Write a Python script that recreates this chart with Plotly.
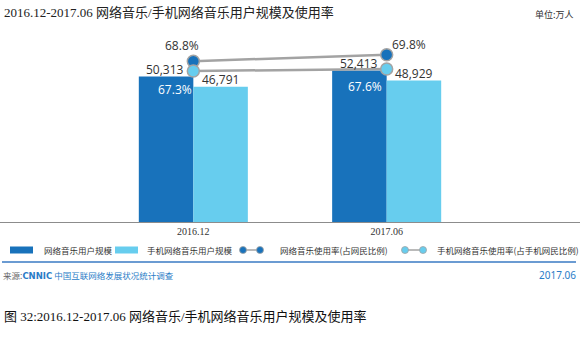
import plotly.graph_objects as go

# ---- data ----
categories = ["2016.12", "2017.06"]
users_total = [50313, 52413]          # 网络音乐用户规模 (万人)
users_mobile = [46791, 48929]         # 手机网络音乐用户规模 (万人)
rate_total = [68.8, 69.8]             # 网络音乐使用率(占网民比例)
rate_mobile = [67.3, 67.6]            # 手机网络音乐使用率(占手机网民比例)

title_text = "2016.12-2017.06 网络音乐/手机网络音乐用户规模及使用率"
caption_text = "图 32:2016.12-2017.06 网络音乐/手机网络音乐用户规模及使用率"
unit_text = "单位:万人"
legend_names = ["网络音乐用户规模", "手机网络音乐用户规模",
                "网络音乐使用率(占网民比例)", "手机网络音乐使用率(占手机网民比例)"]

DARK = "#1872bb"
LIGHT = "#67cdee"
GREY = "#a3a3a3"
W, H = 580, 347
TOP, BOTTOM_Y = 30, 222  # plot area top / baseline in pixels

def py(p):  # pixel y -> paper y
    return (BOTTOM_Y - p) / (BOTTOM_Y - TOP)

def px(p):
    return p / W

xs = [0, 1]
fig = go.Figure()
fig.add_trace(go.Bar(x=xs, y=users_total, marker=dict(color=DARK, line=dict(width=0)),
                     name=legend_names[0]))
fig.add_trace(go.Bar(x=xs, y=users_mobile, marker=dict(color=LIGHT, line=dict(width=0)),
                     name=legend_names[1]))
fig.add_trace(go.Scatter(x=xs, y=rate_total, yaxis="y2", mode="lines+markers",
                         line=dict(color=GREY, width=2.5),
                         marker=dict(size=12, color=DARK, line=dict(color=GREY, width=1.5)),
                         name=legend_names[2]))
fig.add_trace(go.Scatter(x=xs, y=rate_mobile, yaxis="y2", mode="lines+markers",
                         line=dict(color=GREY, width=2.5),
                         marker=dict(size=12, color=LIGHT, line=dict(color=GREY, width=1.5)),
                         name=legend_names[3]))

annotations = []
num_font = dict(family="Open Sans, DejaVu Sans, sans-serif", size=12, color="#333333")
# bar value labels
for i, (a, b) in enumerate(zip(users_total, users_mobile)):
    annotations.append(dict(x=xs[i], y=a, xref="x", yref="y", text=f"{a:,}", showarrow=False,
                            xshift=-28, yshift=7, font=num_font))
    annotations.append(dict(x=xs[i], y=b, xref="x", yref="y", text=f"{b:,}", showarrow=False,
                            xshift=27, yshift=7, font=num_font))
# rate labels
rt_shift = [(-11, 16), (22, 10)]
rm_shift = [(-18, -18), (-22, -17)]
for i in range(2):
    annotations.append(dict(x=xs[i], y=rate_total[i], xref="x", yref="y2",
                            text=f"{rate_total[i]}%", showarrow=False,
                            xshift=rt_shift[i][0], yshift=rt_shift[i][1], font=num_font))
    annotations.append(dict(x=xs[i], y=rate_mobile[i], xref="x", yref="y2",
                            text=f"{rate_mobile[i]}%", showarrow=False,
                            xshift=rm_shift[i][0], yshift=rm_shift[i][1],
                            font=dict(num_font, color="white")))

# watermark
wm_pos = [(40, 40), (190, 30), (340, 35), (500, 30), (110, 110), (270, 105), (430, 100),
          (30, 180), (190, 175), (350, 170), (520, 165), (110, 245), (270, 240), (440, 235),
          (40, 300), (200, 300), (360, 300), (520, 300)]
for (x0, y0) in wm_pos:
    annotations.append(dict(x=px(x0), y=py(y0), xref="paper", yref="paper", text="<b>CNNIC</b>",
                            showarrow=False, textangle=-22,
                            font=dict(family="DejaVu Sans", size=28, color="rgba(0,0,0,0.022)")))

# title / unit / caption / source
serif = "Liberation Serif, Noto Sans CJK SC, serif"
annotations += [
    dict(x=px(2), y=py(13), xref="paper", yref="paper", text=title_text, showarrow=False,
         xanchor="left", yanchor="middle", font=dict(family=serif, size=13, color="#222")),
    dict(x=px(576), y=py(14), xref="paper", yref="paper", text=unit_text, showarrow=False,
         xanchor="right", yanchor="middle", font=dict(family="Noto Sans CJK SC", size=9, color="#333")),
    dict(x=px(2), y=py(316), xref="paper", yref="paper", text=caption_text, showarrow=False,
         xanchor="left", yanchor="middle", font=dict(family=serif, size=13, color="#111")),
    dict(x=px(1), y=py(275), xref="paper", yref="paper",
         text="<span style='color:#666'>来源:</span><b style='font-family:DejaVu Sans'>CNNIC</b> 中国互联网络发展状况统计调查",
         showarrow=False, xanchor="left", yanchor="middle",
         font=dict(family="Noto Sans CJK SC", size=8.5, color="#2a7cc7")),
    dict(x=px(578), y=py(275), xref="paper", yref="paper", text="2017.06", showarrow=False,
         xanchor="right", yanchor="middle", font=dict(family="Noto Sans", size=10, color="#2a7cc7")),
]

# custom legend
leg_font = dict(family="Noto Sans CJK SC", size=8.5, color="#333")
shapes = []
LY = 250
shapes.append(dict(type="rect", xref="paper", yref="paper", x0=px(10), x1=px(33),
                   y0=py(LY - 3.5), y1=py(LY + 3.5), fillcolor=DARK, line=dict(width=0)))
shapes.append(dict(type="rect", xref="paper", yref="paper", x0=px(115), x1=px(138),
                   y0=py(LY - 3.5), y1=py(LY + 3.5), fillcolor=LIGHT, line=dict(width=0)))
for (xa, xb, col) in [(243, 260, DARK), (405, 423, LIGHT)]:
    shapes.append(dict(type="line", xref="paper", yref="paper", x0=px(xa), x1=px(xb),
                       y0=py(LY), y1=py(LY), line=dict(color=GREY, width=1.5)))
    for xc in (xa, xb):
        shapes.append(dict(type="circle", xref="paper", yref="paper", x0=px(xc - 3.5), x1=px(xc + 3.5),
                           y0=py(LY + 3.5), y1=py(LY - 3.5), fillcolor=col,
                           line=dict(color=GREY, width=0.8)))
for xt, name in zip([42, 145, 278, 435], legend_names):
    annotations.append(dict(x=px(xt), y=py(LY), xref="paper", yref="paper", text=name,
                            showarrow=False, xanchor="left", yanchor="middle", font=leg_font))
# blue separator line
shapes.append(dict(type="line", xref="paper", yref="paper", x0=px(2), x1=px(576),
                   y0=py(262), y1=py(262), line=dict(color="#6b9bd2", width=2)))

fig.update_layout(
    width=W, height=H, autosize=False,
    margin=dict(l=0, r=0, t=TOP, b=H - BOTTOM_Y, pad=0),
    paper_bgcolor="white", plot_bgcolor="rgba(0,0,0,0)",
    barmode="group", bargap=0.436, bargroupgap=0,
    showlegend=False,
    xaxis=dict(range=[-1, 2], tickvals=xs, ticktext=categories, showgrid=False, zeroline=False,
               showline=True, linecolor="#8c8c8c", linewidth=1, ticks="",
               tickfont=dict(family="Liberation Serif, serif", size=10, color="#333"),
               fixedrange=True),
    yaxis=dict(range=[0, 66430], visible=False, showgrid=False, zeroline=False),
    yaxis2=dict(range=[44.18, 73.58], overlaying="y", visible=False, showgrid=False, zeroline=False),
    annotations=annotations, shapes=shapes,
)

fig.write_html("out.html")
